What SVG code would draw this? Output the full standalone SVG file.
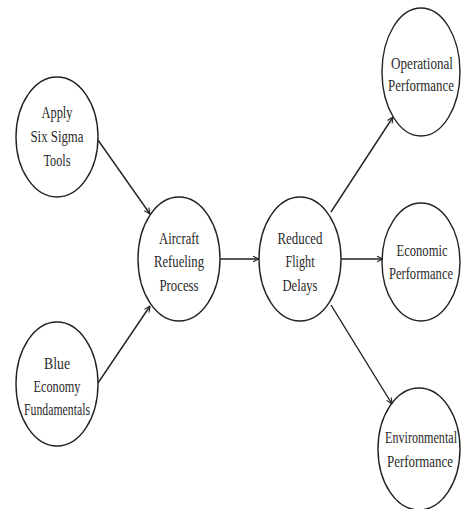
<svg xmlns="http://www.w3.org/2000/svg" width="462" height="509" viewBox="0 0 462 509">
<style>
.n ellipse{fill:none;stroke:#222;stroke-width:1.4}
.n text{font-family:"Liberation Serif","Times New Roman",serif;font-size:17px;fill:#2a2a2a;text-anchor:middle}
.c line{stroke:#222;stroke-width:1.4;marker-end:url(#ah)}
</style>
<defs>
<marker id="ah" viewBox="0 0 10 10" refX="9.5" refY="5" markerWidth="7" markerHeight="7" orient="auto" markerUnits="userSpaceOnUse">
<path d="M1,1 L9.5,5 L1,9" fill="none" stroke="#222" stroke-width="1.6"/>
</marker>
</defs>
<rect width="462" height="509" fill="#fff"/>
<g class="c">
<line x1="98" y1="140" x2="150" y2="214"/>
<line x1="98" y1="383" x2="150" y2="306"/>
<line x1="220" y1="259" x2="259" y2="259"/>
<line x1="331" y1="212" x2="393" y2="117"/>
<line x1="341" y1="259" x2="383" y2="259"/>
<line x1="331" y1="305" x2="392" y2="404"/>
</g>
<g class="n" id="apply">
<ellipse cx="57" cy="137" rx="41" ry="60"/>
<text x="57" y="118" textLength="31" lengthAdjust="spacingAndGlyphs">Apply</text>
<text x="57" y="142" textLength="53" lengthAdjust="spacingAndGlyphs">Six Sigma</text>
<text x="57" y="166" textLength="27" lengthAdjust="spacingAndGlyphs">Tools</text>
</g>
<g class="n" id="blue">
<ellipse cx="57" cy="384" rx="41" ry="62"/>
<text x="57" y="369" textLength="26" lengthAdjust="spacingAndGlyphs">Blue</text>
<text x="57" y="392" textLength="47" lengthAdjust="spacingAndGlyphs">Economy</text>
<text x="57" y="415" textLength="66" lengthAdjust="spacingAndGlyphs">Fundamentals</text>
</g>
<g class="n" id="aircraft">
<ellipse cx="179" cy="259" rx="41" ry="62"/>
<text x="179" y="244" textLength="40" lengthAdjust="spacingAndGlyphs">Aircraft</text>
<text x="179" y="267" textLength="50" lengthAdjust="spacingAndGlyphs">Refueling</text>
<text x="179" y="291" textLength="39" lengthAdjust="spacingAndGlyphs">Process</text>
</g>
<g class="n" id="reduced">
<ellipse cx="300" cy="259" rx="41" ry="62"/>
<text x="300" y="244" textLength="45" lengthAdjust="spacingAndGlyphs">Reduced</text>
<text x="300" y="267" textLength="29" lengthAdjust="spacingAndGlyphs">Flight</text>
<text x="300" y="291" textLength="35" lengthAdjust="spacingAndGlyphs">Delays</text>
</g>
<g class="n" id="operational">
<ellipse cx="421" cy="72" rx="39" ry="64"/>
<text x="422" y="69" textLength="62" lengthAdjust="spacingAndGlyphs">Operational</text>
<text x="421" y="91" textLength="66" lengthAdjust="spacingAndGlyphs">Performance</text>
</g>
<g class="n" id="economic">
<ellipse cx="421" cy="262" rx="39" ry="59"/>
<text x="422" y="256" textLength="51" lengthAdjust="spacingAndGlyphs">Economic</text>
<text x="421" y="279" textLength="64" lengthAdjust="spacingAndGlyphs">Performance</text>
</g>
<g class="n" id="environmental">
<ellipse cx="419" cy="449" rx="41" ry="61"/>
<text x="421" y="443" textLength="72" lengthAdjust="spacingAndGlyphs">Environmental</text>
<text x="420" y="467" textLength="66" lengthAdjust="spacingAndGlyphs">Performance</text>
</g>
</svg>
